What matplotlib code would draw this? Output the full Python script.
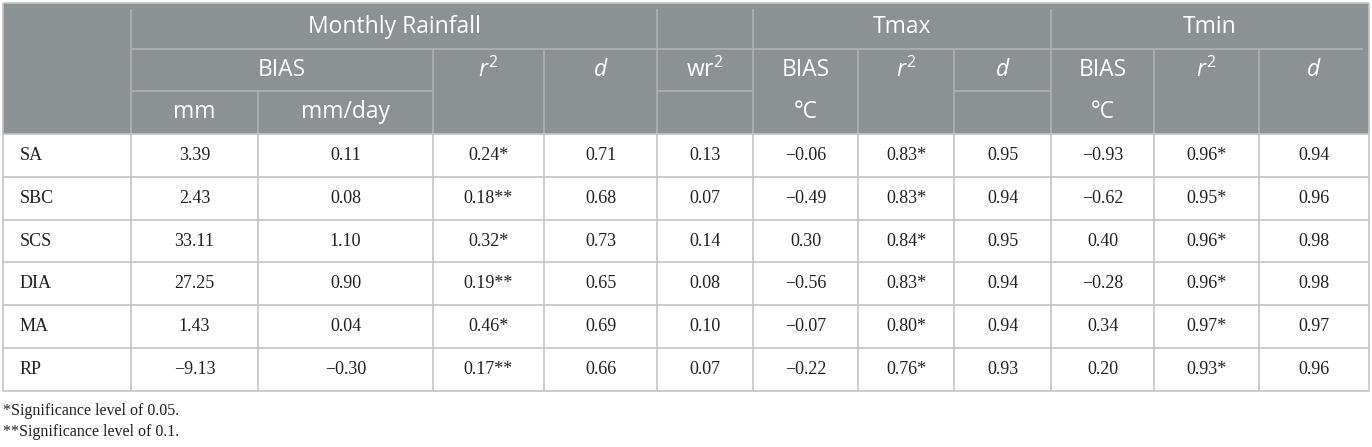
import matplotlib
matplotlib.use("Agg")
from matplotlib import pyplot as plt
from matplotlib.patches import Rectangle

# table values
sites = ["SA", "SBC", "SCS", "DIA", "MA", "RP"]
rain_bias_mm = [3.39, 2.43, 33.11, 27.25, 1.43, -9.13]
rain_bias_mmday = [0.11, 0.08, 1.10, 0.90, 0.04, -0.30]
rain_r2 = [0.24, 0.18, 0.32, 0.19, 0.46, 0.17]
rain_r2_sig = ["*", "**", "*", "**", "*", "**"]
rain_d = [0.71, 0.68, 0.73, 0.65, 0.69, 0.66]
rain_wr2 = [0.13, 0.07, 0.14, 0.08, 0.10, 0.07]
tmax_bias = [-0.06, -0.49, 0.30, -0.56, -0.07, -0.22]
tmax_r2 = [0.83, 0.83, 0.84, 0.83, 0.80, 0.76]
tmax_r2_sig = ["*", "*", "*", "*", "*", "*"]
tmax_d = [0.95, 0.94, 0.95, 0.94, 0.94, 0.93]
tmin_bias = [-0.93, -0.62, 0.40, -0.28, 0.34, 0.20]
tmin_r2 = [0.96, 0.95, 0.96, 0.96, 0.97, 0.93]
tmin_r2_sig = ["*", "*", "*", "*", "*", "*"]
tmin_d = [0.94, 0.96, 0.98, 0.98, 0.97, 0.96]
footnotes = ["*Significance level of 0.05.", "**Significance level of 0.1."]

plt.rcParams['mathtext.fontset'] = 'custom'
plt.rcParams['mathtext.rm'] = 'Open Sans'
plt.rcParams['mathtext.it'] = 'Open Sans:italic'

HEAD = "#8c9194"
HLINE = "#aeb2b4"
DLINE = "#c4c4c4"
SANS = "Open Sans"
SERIF = "Liberation Serif"
INK = "#231f20"

def fmt(v, sig=""):
    return "{:.2f}".format(v).replace("-", "\u2212") + sig

fig = plt.figure(figsize=(13.72, 4.47), dpi=100)
ax = fig.add_axes([0, 0, 1, 1])
ax.set_xlim(0, 1372)
ax.set_ylim(447, 0)
ax.axis("off")

xs = [3, 131, 258, 433, 544, 657, 753, 858, 954, 1051, 1154, 1259, 1369]
hy = [3, 49, 91, 134]
row_h = 42.8
top = hy[-1]
bottom = top + row_h * len(sites)

# header background
ax.add_patch(Rectangle((xs[0], hy[0]), xs[-1] - xs[0], hy[3] - hy[0], color=HEAD, lw=0))

def hl(x0, x1, y, c):
    ax.plot([x0, x1], [y, y], color=c, lw=1.2, solid_capstyle="butt")

def vl(x, y0, y1, c):
    ax.plot([x, x], [y0, y1], color=c, lw=1.2, solid_capstyle="butt")

# header lines
hl(xs[1], xs[-1] - 6, hy[1], HLINE)
hl(xs[1], xs[3], hy[2], HLINE)
hl(xs[5], xs[6], hy[2], HLINE)
hl(xs[8], xs[9], hy[2], HLINE)
for x in [xs[1], xs[5], xs[6], xs[9]]:
    vl(x, hy[0] + 6, hy[3], HLINE)
for x in [xs[3], xs[4], xs[7], xs[8], xs[10], xs[11]]:
    vl(x, hy[1], hy[3], HLINE)
vl(xs[2], hy[2], hy[3], HLINE)

# header text
def ht(x, y, s, **kw):
    ax.text(x, y, s, ha="center", va="center", color="white", fontsize=16.5, family=SANS, **kw)

mid = lambda a, b: (xs[a] + xs[b]) / 2
r1, r2, r3 = (hy[0] + hy[1]) / 2 + 1, (hy[1] + hy[2]) / 2, (hy[2] + hy[3]) / 2
ht(mid(1, 5), r1, "Monthly Rainfall")
ht(mid(6, 9), r1, "Tmax")
ht(mid(9, 12), r1, "Tmin")
ht(mid(1, 3), r2, "BIAS")
ht(mid(1, 2), r3, "mm")
ht(mid(2, 3), r3, "mm/day")
ht(mid(3, 4), r2, "$r^2$")
ht(mid(4, 5), r2, "$d$")
ht(mid(5, 6), r2, r"$\mathrm{wr}^2$")
ht(mid(6, 7), r2, "BIAS")
ht(mid(6, 7), r3, "\u00b0C")
ht(mid(7, 8), r2, "$r^2$")
ht(mid(8, 9), r2, "$d$")
ht(mid(9, 10), r2, "BIAS")
ht(mid(9, 10), r3, "\u00b0C")
ht(mid(10, 11), r2, "$r^2$")
ht(mid(11, 12), r2, "$d$")

# body
for i in range(len(sites) + 1):
    hl(xs[0], xs[-1], top + i * row_h, DLINE)
for x in xs:
    vl(x, top, bottom, DLINE)
vl(xs[0], hy[0], top, DLINE)
vl(xs[-1], hy[0], top, DLINE)
hl(xs[0], xs[-1], hy[0], DLINE)

for i, site in enumerate(sites):
    y = top + (i + 0.5) * row_h
    cells = [fmt(rain_bias_mm[i]), fmt(rain_bias_mmday[i]), fmt(rain_r2[i], rain_r2_sig[i]),
             fmt(rain_d[i]), fmt(rain_wr2[i]), fmt(tmax_bias[i]), fmt(tmax_r2[i], tmax_r2_sig[i]),
             fmt(tmax_d[i]), fmt(tmin_bias[i]), fmt(tmin_r2[i], tmin_r2_sig[i]), fmt(tmin_d[i])]
    ax.text(xs[0] + 17, y, site, ha="left", va="center", fontsize=13, family=SERIF, color=INK)
    for j, c in enumerate(cells):
        ax.text(mid(j + 1, j + 2), y, c, ha="center", va="center", fontsize=13,
                family=SERIF, color=INK)

for k, note in enumerate(footnotes):
    ax.text(3, bottom + 20 + k * 21.5, note, ha="left", va="center", fontsize=11.5,
            family=SERIF, color=INK)

fig.savefig("out.png", dpi=100)
